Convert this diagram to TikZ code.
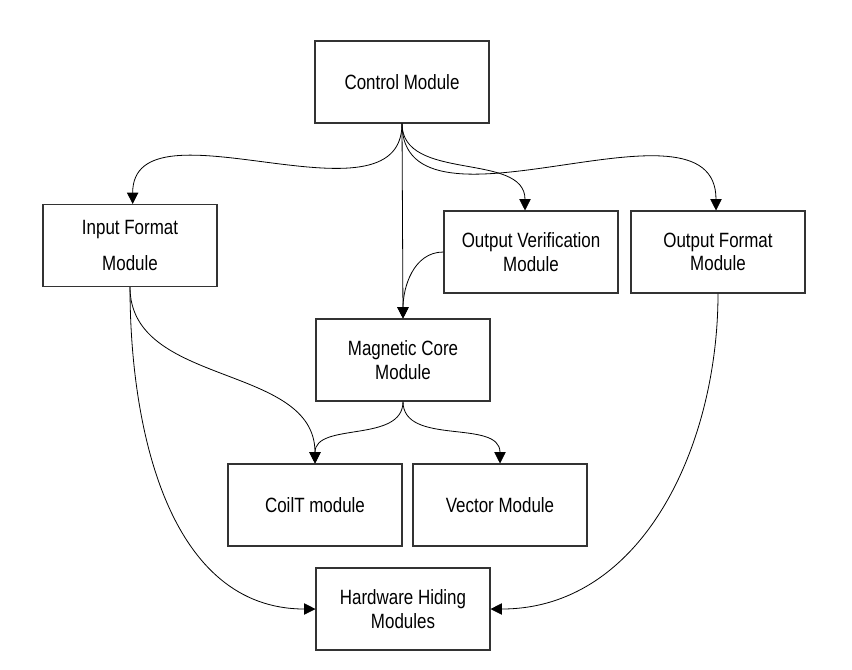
\documentclass[tikz,border=0pt]{standalone}
\usepackage{fontspec}
\setmainfont{Liberation Sans}[FakeStretch=0.82]
\usetikzlibrary{arrows.meta}
\begin{document}
\begin{tikzpicture}[x=0.75pt,y=-0.75pt,
    module/.style={draw=black!80, line width=0.8pt, minimum width=130.5pt, minimum height=61.5pt,
      align=center, font=\fontsize{15.5}{17.5}\selectfont},
    link/.style={line width=0.6pt, -{Triangle[length=8.5pt,width=8.5pt]}}]
    \useasboundingbox (0,0) rectangle (852,669);

    % boxes
    \node[module] (ctrl) at (402,82) {Control Module};
    \node[module] (infmt) at (130,245.5) {Input Format\\[9pt]Module};
    \node[module] (outver) at (531,252) {Output Verification\\Module};
    \node[module] (outfmt) at (718,252) {Output Format\\Module};
    \node[module] (core) at (403,360) {Magnetic Core\\Module};
    \node[module] (coil) at (315,505) {CoilT module};
    \node[module] (vect) at (500,505) {Vector Module};
    \node[module] (hw) at (403,609) {Hardware Hiding\\Modules};

    % connections
    \draw[link] (ctrl.south) to[out=-90,in=90] ([xshift=2pt]infmt.north);
    \draw[link] (ctrl.south) to[out=-90,in=90] ([xshift=-4.5pt]outver.north);
    \draw[link] (ctrl.south) to[out=-90,in=90] ([xshift=-1.5pt]outfmt.north);
    \draw[link] (ctrl.south) -- (core.north);
    \draw[link] (outver.west) to[out=180,in=90] (core.north);
    \draw[link] (infmt.south) to[out=-90,in=90] (coil.north);
    \draw[link] (infmt.south) to[out=-90,in=180] (hw.west);
    \draw[link] (core.south) to[out=-90,in=90] (coil.north);
    \draw[link] (core.south) to[out=-90,in=90] (vect.north);
    \draw[link] (outfmt.south) to[out=-90,in=0] (hw.east);

\end{tikzpicture}
\end{document}
